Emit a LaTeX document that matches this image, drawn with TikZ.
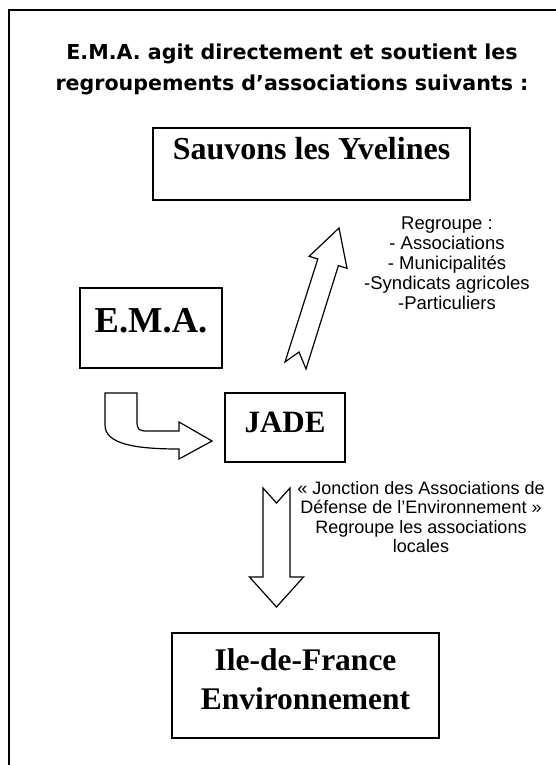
\documentclass[tikz,border=0pt]{standalone}
\usepackage{fontspec}
\setmainfont{Liberation Serif}
\newfontfamily\headfont{DejaVu Sans}
\newfontfamily\notefont{Liberation Sans}

\begin{document}
\begin{tikzpicture}[x=1pt, y=-1pt, semithick,
    box/.style={draw, line width=1.5pt, inner sep=0pt},
    blockarrow/.style={draw, line width=1.2pt, line join=miter, fill=white},
    note/.style={align=center, inner sep=0pt, anchor=north, font=\notefont\fontsize{18}{19.5}\selectfont}]
    \useasboundingbox (0,0) rectangle (556,765);
    \draw[line width=2pt] (556,10) -| (9,765);

    \node[align=center, inner sep=0pt, anchor=north, font=\headfont\bfseries\fontsize{20.6}{30.5}\selectfont] (title) at (292,44)
        {E.M.A. agit directement et soutient les\\regroupements d’associations suivants :};

    % boxes
    \node[box, minimum width=317pt, minimum height=72pt, text height=22pt, text depth=32pt,
          font=\bfseries\fontsize{32}{38}\selectfont] (SY) at (311.5,164) {Sauvons les Yvelines};
    \node[box, minimum width=142pt, minimum height=80pt, text height=26pt, text depth=18pt,
          font=\bfseries\fontsize{36.5}{42}\selectfont] (EMA) at (151,328) {E.M.A.};
    \node[box, minimum width=120pt, minimum height=69pt, text height=22pt, text depth=13pt,
          font=\bfseries\fontsize{31}{37}\selectfont] (JADE) at (285,427.5) {JADE};
    \node[box, align=center, minimum width=267pt, minimum height=105pt,
          font=\bfseries\fontsize{31.5}{39}\selectfont] (IDF) at (305.5,685.5)
        {Ile-de-France\\Environnement\rule[-13pt]{0pt}{0pt}};

    % notes
    \node[note, font=\notefont\fontsize{18.5}{20}\selectfont] (regroupe) at (447,216)
        {Regroupe :\\- Associations\\- Municipalités\\-Syndicats agricoles\\-Particuliers};
    \node[note] (jonction) at (421,481)
        {« Jonction des Associations de\\Défense de l’Environnement »\\Regroupe les associations\\locales};

    % block arrows
    \path[blockarrow] (105,393) -- (137,393) -- (137,421) .. controls (137,430) and (139,431) .. (148,431)
        -- (179,431) -- (179,422) -- (212,441) -- (179,459) -- (179,449)
        .. controls (135,449) and (105,444) .. (105,425) -- cycle;
    \path[blockarrow] (285,362) -- (299,352) -- (306,369) -- (338.4,265.6) -- (347,268.3)
        -- (339,228) -- (309.2,256.3) -- (317.8,259) -- cycle;
    \path[blockarrow] (263,488) -- (276.5,503) -- (290,488) -- (290,577) -- (303.5,577)
        -- (276.5,607) -- (249.5,577) -- (263,577) -- cycle;
\end{tikzpicture}
\end{document}
